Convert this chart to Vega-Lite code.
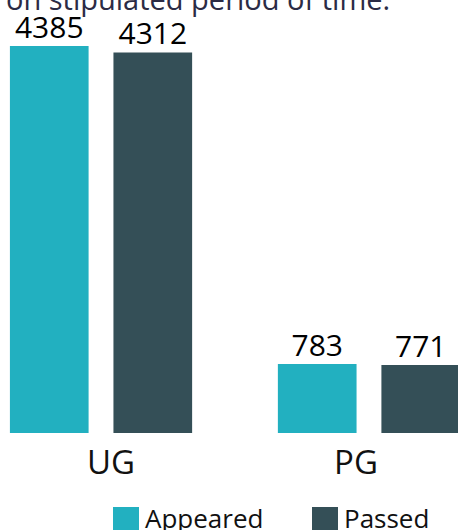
{
  "$schema": "https://vega.github.io/schema/vega-lite/v6.json",
  "width": 470,
  "height": 387,
  "autosize": "none",
  "padding": {"left": 0, "top": 46, "right": 0, "bottom": 110},
  "background": "white",
  "title": {
    "text": "on stipulated period of time.",
    "anchor": "start",
    "frame": "group",
    "font": "Open Sans",
    "fontSize": 29,
    "fontWeight": "normal",
    "color": "#2b2b45",
    "offset": 0,
    "dx": 6,
    "dy": 2
  },
  "data": {
    "values": [
      {"level": "UG", "type": "Appeared", "value": 4385},
      {"level": "UG", "type": "Passed", "value": 4312},
      {"level": "PG", "type": "Appeared", "value": 783},
      {"level": "PG", "type": "Passed", "value": 771}
    ]
  },
  "encoding": {
    "x": {
      "field": "level",
      "type": "nominal",
      "sort": ["UG", "PG"],
      "scale": {"paddingInner": 0.32, "paddingOuter": 0.037},
      "axis": {
        "title": null,
        "labelAngle": 0,
        "domain": false,
        "ticks": false,
        "labelFont": "Open Sans",
        "labelFontSize": 33,
        "labelColor": "#111111",
        "labelPadding": 14,
        "labelOffset": {"expr": "datum.value === 'UG' ? 10 : -13"}
      }
    },
    "xOffset": {
      "field": "type",
      "sort": ["Appeared", "Passed"],
      "scale": {"paddingInner": 0.24}
    },
    "y": {
      "field": "value",
      "type": "quantitative",
      "scale": {"domain": [0, 4385], "nice": false},
      "axis": null
    }
  },
  "layer": [
    {
      "mark": {"type": "bar"},
      "encoding": {
        "color": {
          "field": "type",
          "type": "nominal",
          "scale": {"domain": ["Appeared", "Passed"], "range": ["#22b0c0", "#344f57"]},
          "legend": {
            "title": null,
            "orient": "none",
            "legendX": 113,
            "legendY": 461,
            "direction": "horizontal",
            "symbolType": "square",
            "symbolSize": 676,
            "symbolStrokeWidth": 0,
            "labelFont": "Open Sans",
            "labelFontSize": 26,
            "labelColor": "#111111",
            "labelOffset": 6,
            "columnPadding": 48,
            "padding": 0
          }
        }
      }
    },
    {
      "mark": {
        "type": "text",
        "baseline": "alphabetic",
        "dy": -8,
        "font": "Open Sans",
        "fontSize": 30,
        "color": "#000000"
      },
      "encoding": {"text": {"field": "value", "type": "quantitative"}}
    }
  ],
  "config": {"view": {"stroke": null}}
}
